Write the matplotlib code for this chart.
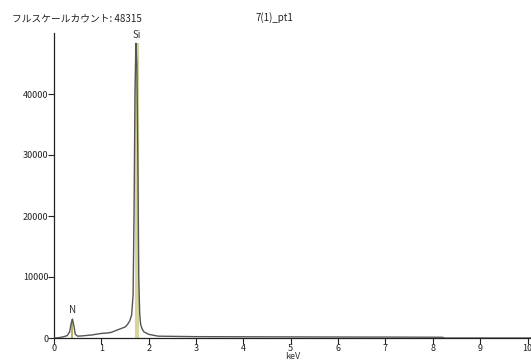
import matplotlib
matplotlib.use("Agg")
import matplotlib.pyplot as plt

plt.rcParams['font.family'] = ['Noto Sans CJK JP', 'DejaVu Sans']

# spectrum (keV, counts)
energy = [0, 0.1, 0.2, 0.28, 0.33, 0.36, 0.39, 0.42, 0.45, 0.5, 0.6, 0.8, 1.0,
          1.1, 1.2, 1.3, 1.4, 1.5, 1.55, 1.6, 1.64, 1.67, 1.69, 1.71, 1.73,
          1.75, 1.77, 1.79, 1.81, 1.83, 1.86, 1.9, 2.0, 2.2, 3, 4, 5, 6, 7,
          8.2, 8.25, 10.1]
counts = [0, 50, 200, 400, 1000, 2300, 3100, 2000, 600, 300, 350, 500, 750,
          800, 900, 1200, 1500, 1800, 2200, 2800, 3800, 7000, 20000, 40000,
          48315, 45000, 30000, 10000, 4000, 2200, 1500, 1000, 600, 300, 220,
          200, 180, 160, 150, 120, 0, 0]

elements = ["N", "Si"]
elem_kev = [0.39, 1.75]
elem_top = [3100, 48315]
elem_color = ["#a8a848", "#d6d69c"]
elem_width = [1.2, 3.0]

full_scale = 48315
sample = "7(1)_pt1"

fig = plt.figure(figsize=(5.31, 3.6), dpi=100)
ax = fig.add_axes([54 / 531, 22 / 360, 477 / 531, 305 / 360])

for el, e, top, c, w in zip(elements, elem_kev, elem_top, elem_color, elem_width):
    ax.plot([e, e], [0, top], color=c, lw=w, solid_capstyle="butt", zorder=2)
    ax.text(e, top + 600, el, ha="center", va="bottom", fontsize=7, color="#333333")

ax.plot(energy, counts, color="#555555", lw=1.0, zorder=3)

ax.set_xlim(0, 477 / 47.35)
ax.set_ylim(0, 50000)
ax.set_xticks(range(0, 11))
ax.set_yticks([0, 10000, 20000, 30000, 40000])
ax.tick_params(labelsize=6.5, length=4, width=0.8, colors="#222222", pad=0)
for s in ["top", "right"]:
    ax.spines[s].set_visible(False)
for s in ["left", "bottom"]:
    ax.spines[s].set_color("#222222")
    ax.spines[s].set_linewidth(0.9)
ax.set_xlabel("keV", fontsize=6.5, color="#333333", labelpad=-0.5)

fig.text(12 / 531, 1 - 18 / 360, "フルスケールカウント: " + str(full_scale),
         fontsize=7, va="center", ha="left", color="#222222")
fig.text(255 / 531, 1 - 18 / 360, sample, fontsize=7, va="center", ha="left",
         color="#222222")

fig.savefig("out.png", dpi=100)
